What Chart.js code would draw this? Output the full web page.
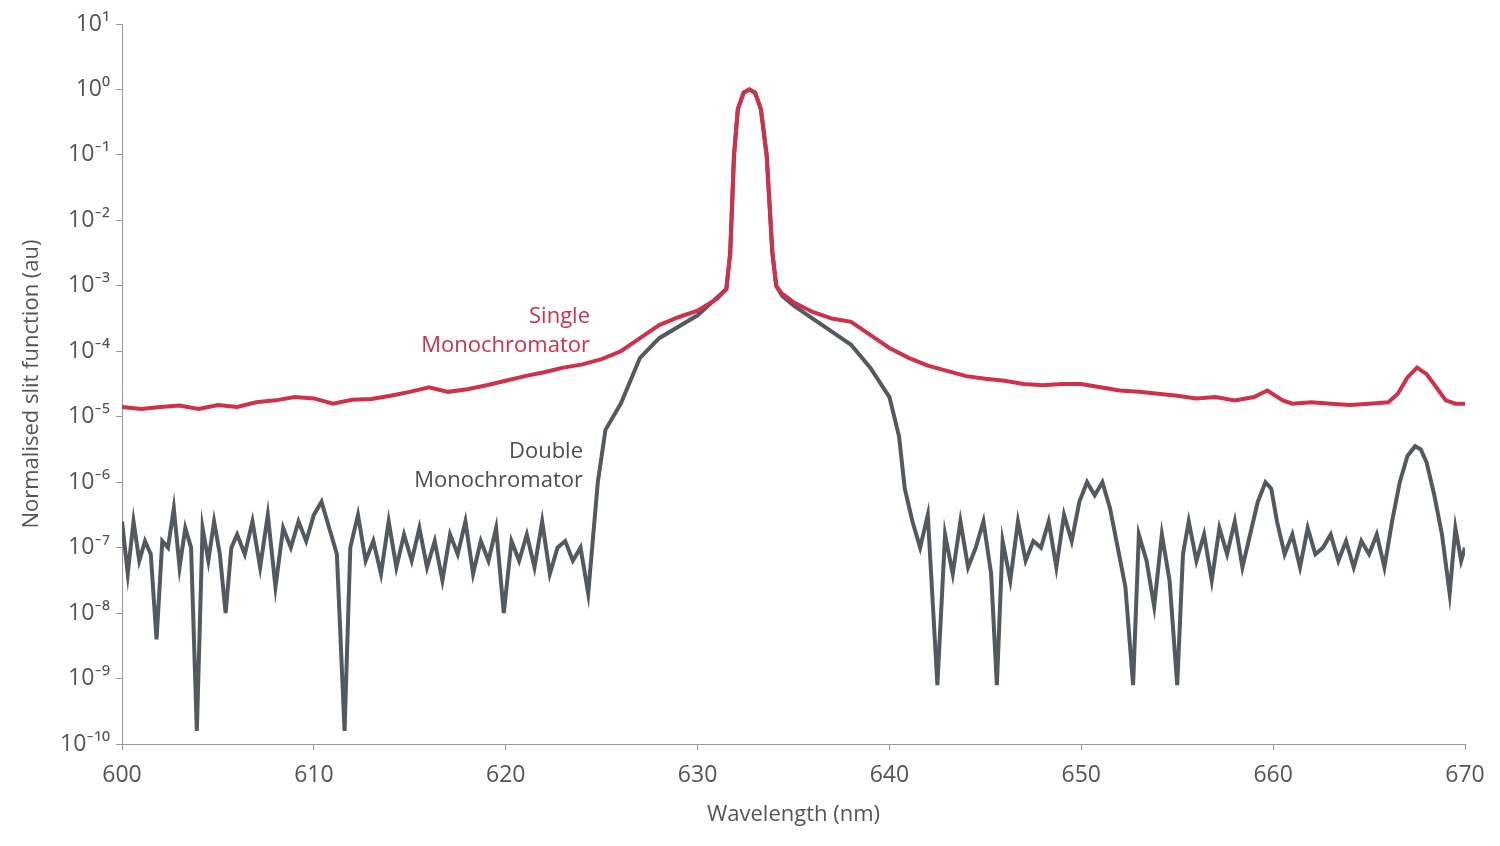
<!DOCTYPE html>
<html><head><meta charset="utf-8">
<script src="https://cdn.jsdelivr.net/npm/chart.js@4"></script>
<style>html,body{margin:0;background:#fff}#w{width:1500px;height:846px}</style>
</head><body><div id="w"><canvas id="c"></canvas></div>
<script>
// y values are log10 of normalised slit function
const singleX=[600,601,602,603,604,605,606,607,608,609,610,611,612,613,614,615,616,617,618,619,620,621,622,623,624,625,626,627,628,629,630,631,631.5,631.7,631.9,632.1,632.4,632.7,633.0,633.3,633.6,633.9,634.1,634.4,635,636,637,638,639,640,641,642,643,644,645,646,647,648,649,650,651,652,653,654,655,656,657,658,659,659.7,660.5,661,662,663,664,665,666,666.5,667,667.5,668,668.5,669,669.5,670];
const singleY=[-4.85,-4.88,-4.85,-4.83,-4.88,-4.82,-4.85,-4.78,-4.75,-4.7,-4.72,-4.8,-4.74,-4.73,-4.68,-4.62,-4.55,-4.62,-4.58,-4.52,-4.45,-4.38,-4.32,-4.25,-4.2,-4.12,-4.0,-3.8,-3.6,-3.48,-3.38,-3.2,-3.05,-2.5,-1.0,-0.3,-0.05,0,-0.05,-0.3,-1.0,-2.5,-3.0,-3.12,-3.25,-3.4,-3.5,-3.55,-3.75,-3.95,-4.1,-4.22,-4.3,-4.38,-4.42,-4.45,-4.5,-4.52,-4.5,-4.5,-4.55,-4.6,-4.62,-4.65,-4.68,-4.72,-4.7,-4.75,-4.7,-4.6,-4.75,-4.8,-4.78,-4.8,-4.82,-4.8,-4.78,-4.65,-4.4,-4.25,-4.35,-4.55,-4.75,-4.8,-4.8];
const doubleX=[600,600.3,600.6,600.9,601.2,601.5,601.8,602.1,602.4,602.7,603,603.3,603.6,603.9,604.2,604.5,604.8,605.1,605.4,605.7,606,606.4,606.8,607.2,607.6,608,608.4,608.8,609.2,609.6,610,610.4,610.8,611.2,611.6,611.9,612.3,612.7,613.1,613.5,613.9,614.3,614.7,615.1,615.5,615.9,616.3,616.7,617.1,617.5,617.9,618.3,618.7,619.1,619.5,619.9,620.3,620.7,621.1,621.5,621.9,622.3,622.7,623.1,623.5,623.9,624.3,
624.8,625.2,626,627,628,630,631.5,631.7,631.9,632.1,632.4,632.7,633.0,633.3,633.6,633.9,634.1,634.4,635,636,637,638,639,640,640.5,640.8,
641.2,641.6,642,642.5,642.9,643.3,643.7,644.1,644.5,644.9,645.3,645.6,645.9,646.3,646.7,647.1,647.5,647.9,648.3,648.7,649.1,649.5,649.9,650.3,650.7,651.1,651.5,651.9,652.3,652.7,653.0,653.4,653.8,654.2,654.6,655.0,655.3,655.6,656.0,656.4,656.8,657.2,657.6,658.0,658.4,658.8,659.2,659.6,659.9,660.2,660.6,661.0,661.4,661.8,662.2,662.6,663.0,663.4,663.8,664.2,664.6,665.0,665.4,665.8,666.2,666.6,667.0,667.4,667.7,668.0,668.4,668.8,669.2,669.5,669.8,670];
const doubleY=[-6.6,-7.4,-6.6,-7.2,-6.9,-7.1,-8.4,-6.9,-7.0,-6.4,-7.3,-6.7,-7.0,-9.8,-6.7,-7.2,-6.6,-7.1,-8.0,-7.0,-6.8,-7.1,-6.6,-7.3,-6.5,-7.6,-6.7,-7.0,-6.6,-6.9,-6.5,-6.3,-6.7,-7.1,-9.8,-7.0,-6.5,-7.2,-6.9,-7.4,-6.6,-7.3,-6.8,-7.2,-6.7,-7.3,-6.9,-7.5,-6.8,-7.1,-6.6,-7.4,-6.9,-7.2,-6.7,-8.0,-6.9,-7.2,-6.8,-7.3,-6.6,-7.4,-7.0,-6.9,-7.2,-7.0,-7.7,
-6.0,-5.2,-4.8,-4.1,-3.8,-3.45,-3.05,-2.5,-1.0,-0.3,-0.05,0,-0.05,-0.3,-1.0,-2.5,-3.0,-3.15,-3.3,-3.5,-3.7,-3.9,-4.25,-4.7,-5.3,-6.1,
-6.6,-7.0,-6.5,-9.1,-6.8,-7.4,-6.6,-7.3,-7.0,-6.6,-7.4,-9.1,-6.9,-7.5,-6.6,-7.2,-6.9,-7.0,-6.6,-7.3,-6.5,-6.9,-6.3,-6.0,-6.2,-6.0,-6.4,-7.0,-7.6,-9.1,-6.8,-7.2,-7.9,-6.8,-7.5,-9.1,-7.1,-6.6,-7.2,-6.8,-7.5,-6.7,-7.1,-6.6,-7.3,-6.8,-6.3,-6.0,-6.1,-6.6,-7.1,-6.8,-7.3,-6.7,-7.1,-7.0,-6.8,-7.2,-6.9,-7.3,-6.9,-7.1,-6.8,-7.3,-6.6,-6.0,-5.6,-5.45,-5.5,-5.7,-6.2,-6.8,-7.7,-6.7,-7.2,-7.0];
const xTicks=[600,610,620,630,640,650,660,670];
const yExps=[1,0,-1,-2,-3,-4,-5,-6,-7,-8,-9,-10];
const sup={'-':'⁻','0':'⁰','1':'¹','2':'²','3':'³','4':'⁴','5':'⁵','6':'⁶','7':'⁷','8':'⁸','9':'⁹'};
const supStr=n=>String(n).split('').map(c=>sup[c]).join('');
const pts=(X,Y)=>X.map((x,i)=>({x,y:Y[i]})).filter(p=>p.y!==undefined);
const FONT='"Open Sans", Lato, sans-serif';
const labels={id:'labels',afterDatasetsDraw(ch){const c=ch.ctx;c.save();c.font='22px '+FONT;c.textAlign='right';
c.fillStyle='#d0304a';c.fillText('Single',590,323);c.fillText('Monochromator',590,352);
c.fillStyle='#4a4f54';c.fillText('Double',583,458);c.fillText('Monochromator',583,487);c.restore();}};
new Chart(document.getElementById('c'),{type:'line',
data:{datasets:[
{data:pts(singleX,singleY),borderColor:'#d0304a',borderWidth:4,pointRadius:0,tension:0},
{data:pts(doubleX,doubleY),borderColor:'#53595e',borderWidth:4,pointRadius:0,tension:0}]},
options:{responsive:true,maintainAspectRatio:false,animation:false,
layout:{padding:{top:24,right:35,bottom:14,left:15}},
plugins:{legend:{display:false},tooltip:{enabled:false}},
scales:{
x:{type:'linear',min:600,max:670,afterBuildTicks:a=>{a.ticks=xTicks.map(v=>({value:v}))},
 grid:{drawOnChartArea:false,tickLength:6,color:'#999'},border:{color:'#999'},
 ticks:{color:'#555',font:{size:23,family:FONT},padding:12},
 title:{display:true,text:'Wavelength (nm)',color:'#555',font:{size:22,family:FONT},padding:{top:0}}},
y:{type:'linear',min:-10,max:1,afterBuildTicks:a=>{a.ticks=yExps.map(v=>({value:v}))},
 afterFit:s=>{s.width=107},
 grid:{drawOnChartArea:false,tickLength:6,color:'#999'},border:{color:'#999'},
 ticks:{color:'#555',font:{size:23,family:FONT},padding:6,callback:v=>'10'+supStr(v)},
 title:{display:true,text:'Normalised slit function (au)',color:'#555',font:{size:22,family:FONT}}}}},
plugins:[labels]});
</script></body></html>
